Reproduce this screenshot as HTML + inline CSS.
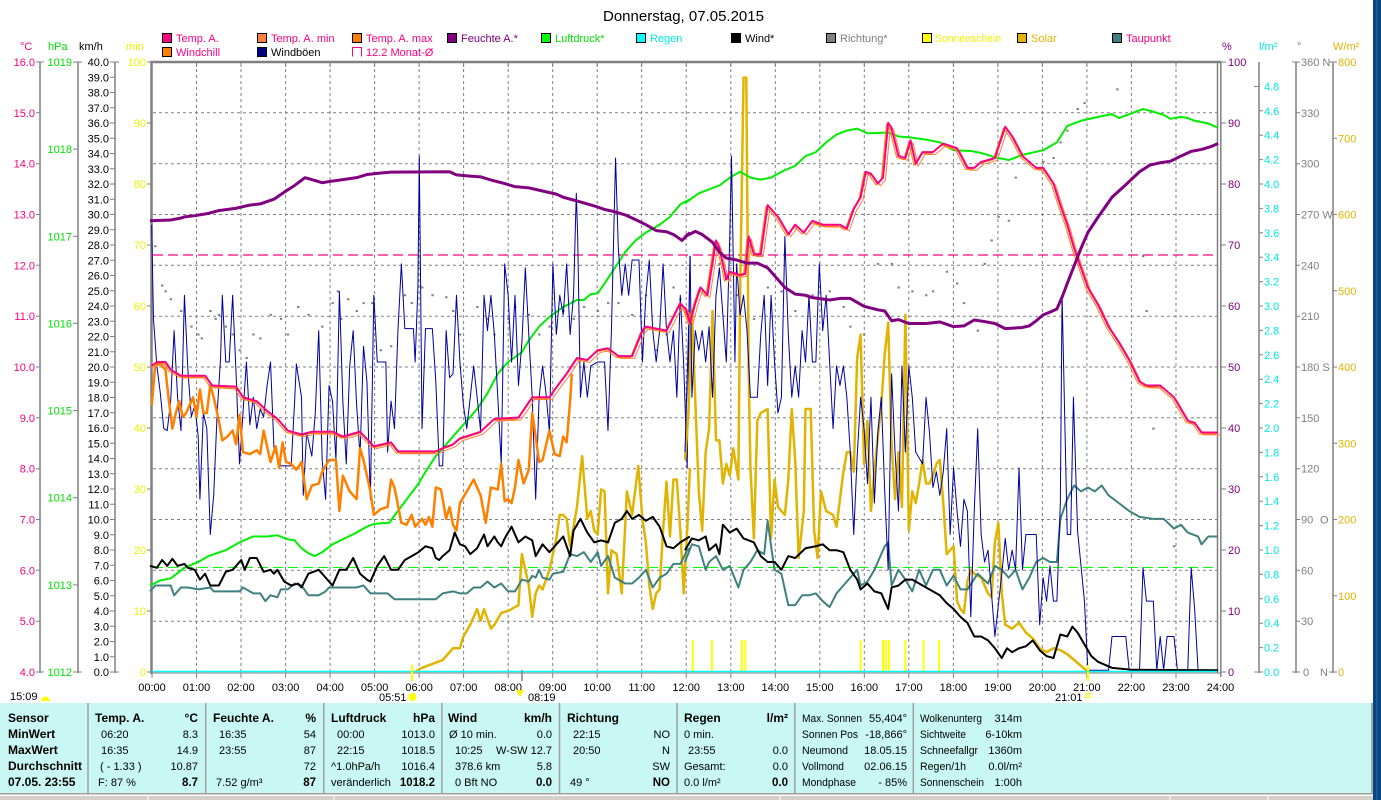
<!DOCTYPE html>
<html><head><meta charset="utf-8"><style>
html,body{margin:0;padding:0;background:#fff;}
svg{display:block;}
text{font-family:"Liberation Sans",Arial,sans-serif;}
</style></head><body>
<svg width="1381" height="800" viewBox="0 0 1381 800" xmlns="http://www.w3.org/2000/svg">
<defs>
<polyline id="tmp" fill="none" vector-effect="non-scaling-stroke" points="5,780 20,770 45,770 60,790 90,805 160,805 180,830 250,833 270,860 310,870 340,895 370,915 400,945 440,955 470,948 530,948 560,960 610,948 650,985 700,975 720,998 830,998 850,990 880,980 900,965 960,948 1000,915 1070,912 1110,860 1160,860 1180,835 1210,800 1240,760 1270,765 1300,740 1330,735 1360,755 1400,755 1430,690 1440,680 1500,690 1540,620 1560,640 1568,660"/>
<polyline id="tmp2" fill="none" vector-effect="non-scaling-stroke" points="0,630 15,670 30,620 45,580 65,600 90,460 100,480 120,560 130,540 160,548 175,545 185,450 200,495 220,495 240,370 270,400 300,445 320,420 345,440 370,410 400,420 450,420 470,430 490,380 510,350 525,285 540,290 560,315 575,300 590,160 600,175 620,245 640,250 655,205 670,265 690,235 720,235 750,213 790,225 820,275 840,275 860,260 900,250 930,170 950,195 980,245 1000,260 1020,275 1040,275 1070,315 1090,370 1110,420 1130,480 1150,530 1170,580 1200,625 1230,680 1260,720 1290,765 1320,820 1340,830 1380,830 1420,860 1460,920 1480,925 1500,950 1548,950"/>
</defs>

<rect x="1373" y="0" width="8" height="800" fill="#0b4580"/>
<rect x="1376" y="0" width="2" height="800" fill="#14599c"/>

<text x="603" y="21" font-size="15" fill="#000">Donnerstag, 07.05.2015</text>

<g font-size="11">
<rect x="162.5" y="33.5" width="9" height="9" fill="#ff0080" stroke="#000"/><text x="176" y="42" fill="#ff0080">Temp. A.</text>
<rect x="257.5" y="33.5" width="9" height="9" fill="#ff8040" stroke="#000"/><text x="271" y="42" fill="#ff0080">Temp. A. min</text>
<rect x="352.5" y="33.5" width="9" height="9" fill="#ff8000" stroke="#000"/><text x="366" y="42" fill="#ff0080">Temp. A. max</text>
<rect x="447.5" y="33.5" width="9" height="9" fill="#800080" stroke="#000"/><text x="461" y="42" fill="#800080">Feuchte A.*</text>
<rect x="541.5" y="33.5" width="9" height="9" fill="#00ff00" stroke="#000"/><text x="555" y="42" fill="#00e000">Luftdruck*</text>
<rect x="636.5" y="33.5" width="9" height="9" fill="#00ffff" stroke="#000"/><text x="650" y="42" fill="#00e8e8">Regen</text>
<rect x="731.5" y="33.5" width="9" height="9" fill="#000" stroke="#000"/><text x="745" y="42" fill="#000">Wind*</text>
<rect x="826.5" y="33.5" width="9" height="9" fill="#808080" stroke="#000"/><text x="840" y="42" fill="#808080">Richtung*</text>
<rect x="922.5" y="33.5" width="9" height="9" fill="#ffff00" stroke="#000"/><text x="935" y="42" fill="#f0f000" textLength="66" lengthAdjust="spacingAndGlyphs">Sonnenschein</text>
<rect x="1017.5" y="33.5" width="9" height="9" fill="#e0b400" stroke="#000"/><text x="1031" y="42" fill="#e0b400">Solar</text>
<rect x="1112.5" y="33.5" width="9" height="9" fill="#408080" stroke="#000"/><text x="1126" y="42" fill="#ff0080">Taupunkt</text>
<rect x="162.5" y="47.5" width="9" height="9" fill="#ff8000" stroke="#000"/><text x="176" y="56" fill="#ff0080">Windchill</text>
<rect x="257.5" y="47.5" width="9" height="9" fill="#000080" stroke="#000"/><text x="271" y="56" fill="#000">Windböen</text>
<path d="M352.5,56.5 V47.5 H361.5 V56.5" fill="none" stroke="#ff0080"/><text x="366" y="56" fill="#ff0080">12.2 Monat-Ø</text>
</g>

<g font-size="11">
<text x="20" y="50" fill="#ff0080">°C</text>
<text x="48" y="50" fill="#00e000">hPa</text>
<text x="79" y="50" fill="#000">km/h</text>
<text x="126" y="50" fill="#f0f000">min</text>
<text x="1222" y="50" fill="#800080">%</text>
<text x="1259" y="50" fill="#00e8e8">l/m²</text>
<text x="1297" y="50" fill="#808080">°</text>
<text x="1333" y="50" fill="#e0b400">W/m²</text>
</g>

<g stroke="#808080" stroke-width="1.5" fill="none">
<line x1="40" y1="62" x2="40" y2="673"/>
<line x1="78" y1="62" x2="78" y2="673"/>
<line x1="115" y1="62" x2="115" y2="673"/>
<line x1="1259" y1="62" x2="1259" y2="673"/>
<line x1="1296" y1="62" x2="1296" y2="673"/>
<line x1="1333" y1="62" x2="1333" y2="673"/>
</g>
<g stroke="#808080" stroke-width="1">
<path d="M36,62H44 M36,112.8H40 M36,163.7H40 M36,214.5H40 M36,265.3H40 M36,316.2H40 M36,367H40 M36,417.8H40 M36,468.7H40 M36,519.5H40 M36,570.3H40 M36,621.2H40 M36,672H44"/>
<path d="M73,62H82 M73,149.1H78 M73,236.3H78 M73,323.4H78 M73,410.6H78 M73,497.7H78 M73,584.9H78 M73,672H82"/>
<path d="M110,62H119 M110,77.25H115 M110,92.5H115 M110,107.75H115 M110,123H115 M110,138.25H115 M110,153.5H115 M110,168.75H115 M110,184H115 M110,199.25H115 M110,214.5H115 M110,229.75H115 M110,245H115 M110,260.25H115 M110,275.5H115 M110,290.75H115 M110,306H115 M110,321.25H115 M110,336.5H115 M110,351.75H115 M110,367H115 M110,382.25H115 M110,397.5H115 M110,412.75H115 M110,428H115 M110,443.25H115 M110,458.5H115 M110,473.75H115 M110,489H115 M110,504.25H115 M110,519.5H115 M110,534.75H115 M110,550H115 M110,565.25H115 M110,580.5H115 M110,595.75H115 M110,611H115 M110,626.25H115 M110,641.5H115 M110,656.75H115 M110,672H119"/>
<path d="M147,62H151 M147,123H151 M147,184H151 M147,245H151 M147,306H151 M147,367H151 M147,428H151 M147,489H151 M147,550H151 M147,611H151 M147,672H151"/>
<path d="M1221,62H1226 M1221,123H1226 M1221,184H1226 M1221,245H1226 M1221,306H1226 M1221,367H1226 M1221,428H1226 M1221,489H1226 M1221,550H1226 M1221,611H1226 M1221,672H1226"/>
<path d="M1254,86.4H1259 M1259,110.8H1263 M1259,135.2H1263 M1259,159.6H1263 M1259,184H1263 M1259,208.4H1263 M1259,232.8H1263 M1259,257.2H1263 M1259,281.6H1263 M1259,306H1263 M1259,330.4H1263 M1259,354.8H1263 M1259,379.2H1263 M1259,403.6H1263 M1259,428H1263 M1259,452.4H1263 M1259,476.8H1263 M1259,501.2H1263 M1259,525.6H1263 M1259,550H1263 M1259,574.4H1263 M1259,598.8H1263 M1259,623.2H1263 M1259,647.6H1263 M1254,672H1263"/>
<path d="M1292,62H1300 M1296,112.8H1300 M1296,163.7H1300 M1296,214.5H1300 M1296,265.3H1300 M1296,316.2H1300 M1296,367H1300 M1296,417.8H1300 M1296,468.7H1300 M1296,519.5H1300 M1296,570.3H1300 M1296,621.2H1300 M1292,672H1300"/>
<path d="M1329,62H1337 M1333,138.25H1337 M1333,214.5H1337 M1333,290.75H1337 M1333,367H1337 M1333,443.25H1337 M1333,519.5H1337 M1333,595.75H1337 M1329,672H1337"/>
</g>

<g font-size="11" fill="#ff0080" text-anchor="end">
<text x="35" y="66">16.0</text><text x="35" y="116.8">15.0</text><text x="35" y="167.7">14.0</text><text x="35" y="218.5">13.0</text><text x="35" y="269.3">12.0</text><text x="35" y="320.2">11.0</text><text x="35" y="371">10.0</text><text x="35" y="421.8">9.0</text><text x="35" y="472.7">8.0</text><text x="35" y="523.5">7.0</text><text x="35" y="574.3">6.0</text><text x="35" y="625.2">5.0</text><text x="35" y="676">4.0</text>
</g>
<g font-size="11" fill="#00e000" text-anchor="end">
<text x="72" y="66">1019</text><text x="72" y="153.1">1018</text><text x="72" y="240.3">1017</text><text x="72" y="327.4">1016</text><text x="72" y="414.6">1015</text><text x="72" y="501.7">1014</text><text x="72" y="588.9">1013</text><text x="72" y="676">1012</text>
</g>
<g font-size="11" fill="#000" text-anchor="end">
<text x="109" y="66">40.0</text><text x="109" y="81.25">39.0</text><text x="109" y="96.5">38.0</text><text x="109" y="111.75">37.0</text><text x="109" y="127">36.0</text><text x="109" y="142.25">35.0</text><text x="109" y="157.5">34.0</text><text x="109" y="172.75">33.0</text><text x="109" y="188">32.0</text><text x="109" y="203.25">31.0</text><text x="109" y="218.5">30.0</text><text x="109" y="233.75">29.0</text><text x="109" y="249">28.0</text><text x="109" y="264.25">27.0</text><text x="109" y="279.5">26.0</text><text x="109" y="294.75">25.0</text><text x="109" y="310">24.0</text><text x="109" y="325.25">23.0</text><text x="109" y="340.5">22.0</text><text x="109" y="355.75">21.0</text><text x="109" y="371">20.0</text><text x="109" y="386.25">19.0</text><text x="109" y="401.5">18.0</text><text x="109" y="416.75">17.0</text><text x="109" y="432">16.0</text><text x="109" y="447.25">15.0</text><text x="109" y="462.5">14.0</text><text x="109" y="477.75">13.0</text><text x="109" y="493">12.0</text><text x="109" y="508.25">11.0</text><text x="109" y="523.5">10.0</text><text x="109" y="538.75">9.0</text><text x="109" y="554">8.0</text><text x="109" y="569.25">7.0</text><text x="109" y="584.5">6.0</text><text x="109" y="599.75">5.0</text><text x="109" y="615">4.0</text><text x="109" y="630.25">3.0</text><text x="109" y="645.5">2.0</text><text x="109" y="660.75">1.0</text><text x="109" y="676">0.0</text>
</g>
<g font-size="11" fill="#f0f000" text-anchor="end">
<text x="146" y="66">100</text><text x="146" y="127">90</text><text x="146" y="188">80</text><text x="146" y="249">70</text><text x="146" y="310">60</text><text x="146" y="371">50</text><text x="146" y="432">40</text><text x="146" y="493">30</text><text x="146" y="554">20</text><text x="146" y="615">10</text><text x="146" y="676">0</text>
</g>
<g font-size="11" fill="#800080">
<text x="1228" y="66">100</text><text x="1228" y="127">90</text><text x="1228" y="188">80</text><text x="1228" y="249">70</text><text x="1228" y="310">60</text><text x="1228" y="371">50</text><text x="1228" y="432">40</text><text x="1228" y="493">30</text><text x="1228" y="554">20</text><text x="1228" y="615">10</text><text x="1228" y="676">0</text>
</g>
<g font-size="11" fill="#00e8e8">
<text x="1264" y="90.4">4.8</text><text x="1264" y="114.8">4.6</text><text x="1264" y="139.2">4.4</text><text x="1264" y="163.6">4.2</text><text x="1264" y="188">4.0</text><text x="1264" y="212.4">3.8</text><text x="1264" y="236.8">3.6</text><text x="1264" y="261.2">3.4</text><text x="1264" y="285.6">3.2</text><text x="1264" y="310">3.0</text><text x="1264" y="334.4">2.8</text><text x="1264" y="358.8">2.6</text><text x="1264" y="383.2">2.4</text><text x="1264" y="407.6">2.2</text><text x="1264" y="432">2.0</text><text x="1264" y="456.4">1.8</text><text x="1264" y="480.8">1.6</text><text x="1264" y="505.2">1.4</text><text x="1264" y="529.6">1.2</text><text x="1264" y="554">1.0</text><text x="1264" y="578.4">0.8</text><text x="1264" y="602.8">0.6</text><text x="1264" y="627.2">0.4</text><text x="1264" y="651.6">0.2</text><text x="1264" y="676">0.0</text>
</g>
<g font-size="11" fill="#808080">
<text x="1301" y="66">360 N</text><text x="1301" y="116.8">330</text><text x="1301" y="167.7">300</text><text x="1301" y="218.5">270 W</text><text x="1301" y="269.3">240</text><text x="1301" y="320.2">210</text><text x="1301" y="371">180 S</text><text x="1301" y="421.8">150</text><text x="1301" y="472.7">120</text><text x="1301" y="523.5">90</text><text x="1320" y="523.5">O</text><text x="1301" y="574.3">60</text><text x="1301" y="625.2">30</text><text x="1303" y="676">0</text><text x="1320" y="676">N</text>
</g>
<g font-size="11" fill="#e0b400">
<text x="1338" y="66">800</text><text x="1338" y="142.25">700</text><text x="1338" y="218.5">600</text><text x="1338" y="294.75">500</text><text x="1338" y="371">400</text><text x="1338" y="447.25">300</text><text x="1338" y="523.5">200</text><text x="1338" y="599.75">100</text><text x="1338" y="676">0</text>
</g>

<g stroke="#808080" stroke-width="1" stroke-dasharray="3,3" fill="none">
<path d="M153,112.8H1217 M153,163.7H1217 M153,214.5H1217 M153,265.3H1217 M153,316.2H1217 M153,367H1217 M153,417.8H1217 M153,468.7H1217 M153,519.5H1217 M153,570.3H1217 M153,621.2H1217"/>
<path d="M196.5,63V671 M241,63V671 M285.6,63V671 M330.1,63V671 M374.6,63V671 M419.1,63V671 M463.6,63V671 M508.2,63V671 M552.7,63V671 M597.2,63V671 M641.7,63V671 M686.2,63V671 M730.8,63V671 M775.3,63V671 M819.8,63V671 M864.3,63V671 M908.8,63V671 M953.4,63V671 M997.9,63V671 M1042.4,63V671 M1086.9,63V671 M1131.4,63V671 M1176,63V671"/>
</g>
<g stroke="#808080" fill="none">
<line x1="151.5" y1="61" x2="151.5" y2="674" stroke-width="2.5"/>
<line x1="151" y1="62" x2="1221" y2="62" stroke-width="2.5"/>
<line x1="1217.5" y1="62" x2="1217.5" y2="673" stroke-width="1.5"/>
<line x1="1220.8" y1="62" x2="1220.8" y2="677" stroke-width="1.5"/>
<line x1="151" y1="673" x2="1221" y2="673" stroke-width="1"/>
<path stroke-width="1" d="M196.5,64V67 M241,64V67 M285.6,64V67 M330.1,64V67 M374.6,64V67 M419.1,64V67 M463.6,64V67 M508.2,64V67 M552.7,64V67 M597.2,64V67 M641.7,64V67 M686.2,64V67 M730.8,64V67 M775.3,64V67 M819.8,64V67 M864.3,64V67 M908.8,64V67 M953.4,64V67 M997.9,64V67 M1042.4,64V67 M1086.9,64V67 M1131.4,64V67 M1176,64V67"/>
<path stroke-width="1" d="M152,673V678 M196.5,673V678 M241,673V678 M285.6,673V678 M330.1,673V678 M374.6,673V678 M419.1,673V678 M463.6,673V678 M508.2,673V678 M552.7,673V678 M597.2,673V678 M641.7,673V678 M686.2,673V678 M730.8,673V678 M775.3,673V678 M819.8,673V678 M864.3,673V678 M908.8,673V678 M953.4,673V678 M997.9,673V678 M1042.4,673V678 M1086.9,673V678 M1131.4,673V678 M1176,673V678"/>
</g>
<line x1="153" y1="255" x2="1217" y2="255" stroke="#ff0080" stroke-width="1.2" stroke-dasharray="10,5"/>
<line x1="153" y1="567.5" x2="1217" y2="567.5" stroke="#00ff00" stroke-width="1" stroke-dasharray="10,5"/>

<g stroke="#ffff00" stroke-width="2">
<path d="M692.6,640V671 M711.9,640V671 M741.8,640V671 M745.3,640V671 M860.6,640V671 M883,640V671 M885.8,640V671 M888.9,640V671 M905.4,640V671 M923.6,640V671 M939.1,640V671"/>
</g>

<g transform="translate(150,60) scale(0.34435,0.39216)" fill="none" stroke-linejoin="round">
<path vector-effect="non-scaling-stroke" stroke="#808080" stroke-width="2" stroke-linecap="square" d="M15,475h1 M35,575h1 M45,590h1 M60,610h1 M90,640h1 M120,680h1 M140,700h1 M150,710h1 M175,640h1 M190,660h1 M200,650h1 M220,680h1 M240,700h1 M260,740h1 M280,760h1 M300,700h1 M320,710h1 M350,650h1 M380,660h1 M400,700h1 M430,630h1 M460,650h1 M500,680h1 M530,620h1 M545,590h1 M555,660h1 M575,610h1 M600,640h1 M620,620h1 M645,620h1 M670,740h1 M700,730h1 M740,600h1 M760,620h1 M790,580h1 M820,600h1 M860,605h1 M880,640h1 M900,700h1 M950,630h1 M980,660h1 M1000,700h1 M1040,660h1 M1060,630h1 M1100,650h1 M1130,700h1 M1160,680h1 M1200,640h1 M1230,660h1 M1260,630h1 M1300,640h1 M1330,620h1 M1360,620h1 M1400,650h1 M1440,600h1 M1470,740h1 M1500,700h1 M1520,580h1 M1540,610h1"/>
<polyline vector-effect="non-scaling-stroke" stroke="#e0b400" stroke-width="2.5" points="770,1560 790,1550 820,1540 850,1530 880,1500 900,1500 910,1470 930,1440 950,1400 960,1430 970,1400 990,1450 1000,1440 1020,1410 1040,1405 1060,1395 1070,1390 1080,1260 1090,1300 1100,1340 1110,1420 1120,1360 1130,1340 1140,1350 1160,1300 1180,1220 1190,1160 1200,1160 1210,1170 1220,1240 1240,1140 1255,1010 1270,1170 1280,1150 1290,1200 1300,1210 1310,1095 1320,1100 1330,1360 1340,1250 1355,1260 1370,1360 1385,1100 1400,1160 1418,1035 1430,1170 1440,1230 1450,1340 1460,1400 1470,1360 1480,1350 1490,1200 1500,1075 1510,1215 1520,1070 1530,1070 1540,1200 1550,1360 1560,1200 1568,1040"/>
<polyline vector-effect="non-scaling-stroke" stroke="#408080" stroke-width="2" points="0,1355 15,1340 60,1340 70,1365 90,1345 110,1345 140,1350 175,1345 185,1355 260,1355 270,1345 300,1360 320,1360 335,1380 350,1365 370,1370 380,1350 400,1350 420,1335 440,1340 460,1365 490,1365 510,1355 520,1345 600,1345 620,1340 640,1360 690,1360 710,1375 830,1375 850,1360 880,1355 900,1360 920,1360 940,1345 960,1345 980,1330 1000,1345 1020,1335 1040,1355 1060,1355 1080,1325 1100,1330 1110,1315 1120,1320 1130,1300 1140,1320 1160,1325 1170,1310 1200,1305 1220,1260 1240,1265 1260,1255 1280,1280 1300,1255 1310,1290 1330,1265 1350,1320 1380,1335 1400,1335 1420,1320 1440,1300 1460,1345 1480,1320 1500,1310 1520,1285 1540,1285 1560,1250 1568,1245"/>
<polyline vector-effect="non-scaling-stroke" stroke="#00ee00" stroke-width="2" points="0,1340 30,1327 60,1322 100,1295 140,1280 170,1265 220,1250 260,1230 300,1215 340,1215 370,1212 400,1222 420,1225 440,1245 460,1258 478,1265 500,1255 530,1235 570,1218 600,1205 630,1190 650,1183 695,1180 720,1150 750,1115 780,1080 800,1050 830,1010 860,980 890,950 920,920 950,890 980,850 1010,800 1040,770 1080,745 1100,715 1130,680 1160,655 1200,630 1240,612 1260,612 1280,597 1300,595 1320,570 1350,530 1380,490 1410,460 1440,440 1480,420 1510,400 1540,368 1568,355"/>
<polyline vector-effect="non-scaling-stroke" stroke="#0000a0" stroke-width="1" points="5,420 10,660 20,780 30,850 40,940 50,945 60,870 70,690 80,860 90,945 100,600 110,790 120,910 130,880 140,960 145,1120 155,900 165,940 175,1210 185,1110 195,900 205,760 210,600 220,770 230,770 240,600 250,800 260,1030 270,900 280,770 290,930 300,860 310,940 320,890 330,910 340,830 350,770 360,990 380,1035 410,1035 420,870 425,775 440,860 445,1110 455,950 470,1010 480,900 490,690 500,1020 510,1120 520,830 530,870 540,1020 550,590 560,870 570,1030 580,780 590,690 600,880 610,1010 620,730 630,820 640,1120 650,600 660,770 685,770 690,1000 700,870 710,940 720,690 730,520 740,685 765,685 770,770 778,580 782,245 785,500 790,940 800,685 820,685 830,820 840,1035 850,1035 860,690 870,810 880,800 890,600 900,770 910,880 920,940 940,780 950,860 960,945 970,600 980,690 990,600 1000,700 1010,860 1020,1030 1030,520 1040,600 1050,770 1060,600 1070,830 1080,720 1090,530 1100,700 1110,860 1120,1120 1130,860 1140,780 1150,850 1160,950 1170,520 1180,700 1190,600 1200,650 1210,520 1220,700 1230,600 1238,340 1242,450 1250,860 1260,770 1270,860 1280,780 1300,770 1320,770 1330,945 1340,690 1352,250 1360,480 1370,600 1380,520 1390,600 1400,510 1420,510 1430,770 1440,600 1450,510 1460,690 1470,770 1480,690 1490,520 1500,690 1510,770 1520,690 1530,860 1540,600 1550,780 1560,1040 1568,500"/>
<polyline vector-effect="non-scaling-stroke" stroke="#ff8000" stroke-width="2.5" points="5,880 15,780 30,775 45,790 55,870 65,940 75,900 85,870 95,910 105,900 115,880 125,860 135,910 145,840 155,900 165,900 175,830 185,860 200,920 210,970 225,960 240,945 250,980 260,905 270,1000 290,1005 310,995 320,1005 330,945 350,1025 365,985 375,1040 385,975 395,1025 410,1030 425,1045 440,1025 455,1120 470,1085 490,1080 500,1050 520,1020 540,1020 550,1150 560,1060 580,1100 600,1120 610,990 620,1020 640,1100 650,1160 670,1145 690,1140 700,1070 710,1090 730,1180 745,1185 760,1160 770,1190 790,1170 800,1185 810,1165 820,1190 830,1090 845,1095 860,1170 870,1140 880,1185 890,1200 900,1130 920,1100 940,1070 960,1110 975,1180 990,1090 1010,1095 1020,1030 1030,1125 1040,1120 1050,1130 1060,1090 1070,1020 1085,1080 1100,1045 1110,900 1120,960 1130,1025 1140,1020 1160,945 1175,1005 1190,1010 1200,960 1210,975 1220,870 1225,800"/>
<use href="#tmp" stroke="#ff8040" stroke-width="1" transform="translate(7,6)"/>
<use href="#tmp" stroke="#ff8000" stroke-width="1" transform="translate(-5,4)"/>
<use href="#tmp" stroke="#ff0080" stroke-width="2"/>
<polyline vector-effect="non-scaling-stroke" stroke="#000" stroke-width="2" points="0,1290 20,1295 35,1275 50,1290 65,1272 80,1290 100,1285 110,1295 130,1300 145,1325 160,1310 175,1340 200,1340 220,1305 240,1300 265,1275 275,1300 290,1270 310,1270 330,1305 350,1300 360,1310 370,1300 390,1330 410,1340 430,1335 440,1345 460,1310 490,1300 510,1320 530,1340 550,1300 570,1300 590,1270 610,1310 630,1325 640,1330 660,1290 680,1265 700,1300 720,1300 740,1275 760,1265 780,1255 800,1240 820,1245 830,1270 840,1275 850,1265 870,1250 885,1205 900,1235 915,1240 930,1260 950,1245 970,1210 980,1240 1000,1215 1010,1230 1020,1240 1030,1220 1050,1190 1070,1230 1090,1215 1110,1225 1120,1265 1140,1235 1160,1255 1180,1235 1200,1215 1220,1265 1230,1200 1250,1170 1270,1205 1290,1230 1310,1225 1330,1230 1350,1180 1370,1170 1385,1150 1400,1170 1420,1160 1440,1175 1460,1165 1480,1190 1500,1240 1520,1245 1540,1230 1568,1215"/>
<polyline vector-effect="non-scaling-stroke" stroke="#800080" stroke-width="3" points="0,410 60,408 90,403 100,400 130,397 170,391 200,384 250,378 290,370 320,367 360,355 390,337 420,320 450,300 470,305 500,313 520,310 560,305 600,300 630,292 660,289 700,286 870,285 890,293 930,296 960,298 990,306 1030,315 1060,323 1100,326 1140,334 1180,342 1200,350 1250,362 1290,372 1320,381 1350,387 1380,395 1410,407 1440,420 1470,435 1500,438 1520,445 1545,460 1568,440"/>
</g>

<g transform="translate(685,60) scale(0.34435,0.39216)" fill="none" stroke-linejoin="round">
<path vector-effect="non-scaling-stroke" stroke="#808080" stroke-width="2" stroke-linecap="square" d="M100,520h1 M150,600h1 M200,660h1 M240,580h1 M280,590h1 M320,640h1 M370,600h1 M420,590h1 M460,630h1 M480,680h1 M520,700h1 M560,520h1 M600,520h1 M620,580h1 M660,590h1 M700,600h1 M720,590h1 M760,540h1 M790,570h1 M810,620h1 M850,690h1 M870,520h1 M890,460h1 M910,400h1 M940,410h1 M960,300h1 M1000,260h1 M1040,260h1 M1070,250h1 M1090,210h1 M1110,180h1 M1140,125h1 M1160,110h1 M1255,75h1 M1330,500h1 M1340,640h1 M1360,940h1 M1420,1240h1 M1470,1320h1"/>
<polyline vector-effect="non-scaling-stroke" stroke="#e0b400" stroke-width="2.5" points="0,1020 10,900 20,640 30,870 40,1100 50,1200 60,1000 70,940 80,640 90,970 100,970 110,1080 120,1030 130,1060 140,990 155,1070 160,600 170,45 178,45 185,800 190,1040 200,1220 210,920 220,900 240,890 250,1220 260,1070 270,1140 290,1160 300,1070 310,890 320,1020 330,1270 345,1150 350,890 365,890 375,1200 385,1270 395,1100 410,1150 430,1160 440,1190 460,1050 470,1000 480,1000 490,1050 500,760 510,700 520,1030 530,920 540,1150 550,1050 560,960 570,880 580,750 590,670 600,980 610,1120 620,1000 630,1140 640,650 650,1200 660,1100 670,1130 680,1080 690,1020 700,1080 710,1080 720,1060 730,1030 740,1020 750,1130 760,1260 770,1250 780,1240 790,1380 800,1400 810,1410 820,1330 830,1300 840,1310 860,1320 880,1360 890,1370 900,1230 910,1180 920,1360 930,1440 950,1450 970,1435 990,1460 1010,1475 1030,1500 1050,1510 1070,1500 1090,1505 1110,1515 1130,1530 1150,1545 1170,1560"/>
<polyline vector-effect="non-scaling-stroke" stroke="#408080" stroke-width="2" points="0,1280 20,1235 40,1240 60,1300 70,1280 90,1265 110,1300 130,1290 155,1345 170,1300 190,1280 210,1250 230,1260 240,1175 250,1240 260,1300 280,1310 300,1390 320,1390 340,1365 360,1365 380,1360 400,1380 420,1395 440,1360 460,1340 480,1320 500,1300 510,1340 530,1330 550,1300 580,1240 590,1230 600,1340 620,1300 640,1325 660,1355 680,1300 700,1340 720,1300 740,1300 760,1340 780,1315 800,1350 820,1350 850,1310 880,1335 900,1290 920,1300 940,1320 960,1300 980,1350 1000,1320 1020,1280 1040,1270 1060,1280 1080,1280 1090,1170 1110,1120 1130,1085 1150,1100 1170,1090 1190,1100 1210,1085 1230,1110 1260,1130 1290,1150 1320,1165 1360,1170 1390,1170 1420,1195 1440,1185 1460,1205 1490,1215 1500,1235 1520,1215 1548,1215"/>
<polyline vector-effect="non-scaling-stroke" stroke="#00ee00" stroke-width="2" points="0,365 40,340 100,320 130,300 160,285 190,300 220,305 250,300 280,285 320,270 350,245 380,235 410,210 440,190 470,180 500,175 530,187 590,185 620,195 650,197 700,203 740,210 780,230 830,232 860,237 900,248 940,255 980,242 1040,230 1080,210 1110,168 1150,155 1200,145 1240,138 1260,148 1300,135 1330,125 1360,132 1390,140 1410,150 1440,145 1460,148 1480,155 1520,162 1548,173"/>
<polyline vector-effect="non-scaling-stroke" stroke="#0000a0" stroke-width="1" points="0,1000 10,700 15,500 20,860 30,690 40,740 50,690 60,770 70,680 80,860 90,600 100,530 110,650 120,770 130,450 135,245 140,500 145,770 150,520 160,650 170,600 180,690 190,860 210,860 220,700 230,600 240,830 250,600 260,770 270,900 280,860 290,450 300,700 310,860 320,780 330,860 340,690 350,770 360,600 370,770 380,770 390,520 400,690 410,600 420,770 430,940 440,780 450,830 460,780 470,860 480,1000 490,1210 500,1010 510,860 520,940 530,1080 540,860 550,1130 560,950 570,860 580,1100 590,1300 600,800 610,1000 620,1150 630,780 640,1000 650,780 660,860 670,1000 690,1030 700,860 710,950 720,1090 730,1050 740,1110 750,1050 760,940 770,1210 780,1040 790,1150 800,1240 810,1120 820,1150 830,1420 840,1150 850,940 860,1210 870,1280 880,1250 890,1360 900,1470 910,1390 920,1310 930,1220 940,1300 950,1250 960,1300 970,1040 980,1300 990,1210 1020,1210 1030,1440 1040,1320 1050,1380 1060,1290 1070,1380 1080,1380 1090,1130 1095,600 1100,800 1110,1210 1120,1210 1128,860 1140,1200 1160,1380 1170,1556 1230,1556 1240,1470 1280,1470 1290,1556 1320,1556 1330,1295 1340,1380 1360,1380 1370,1556 1380,1470 1390,1556 1400,1470 1420,1470 1430,1556 1460,1556 1470,1295 1480,1400 1490,1556 1548,1556"/>
<use href="#tmp2" stroke="#ff8040" stroke-width="1" transform="translate(7,6)"/>
<use href="#tmp2" stroke="#ff8000" stroke-width="1" transform="translate(-5,4)"/>
<use href="#tmp2" stroke="#ff0080" stroke-width="2"/>
<polyline vector-effect="non-scaling-stroke" stroke="#000" stroke-width="2" points="0,1250 20,1220 40,1225 60,1215 70,1250 90,1235 100,1260 110,1185 130,1205 150,1195 170,1220 200,1230 220,1265 240,1280 260,1280 280,1300 300,1265 320,1270 350,1245 380,1240 400,1235 420,1250 440,1250 460,1255 480,1300 500,1325 510,1350 530,1335 550,1355 570,1360 590,1400 600,1345 620,1340 640,1325 660,1325 680,1335 700,1345 720,1355 740,1365 760,1385 780,1400 800,1420 820,1435 840,1470 860,1470 880,1480 900,1500 920,1525 935,1500 950,1510 970,1500 990,1495 1010,1480 1030,1505 1050,1520 1070,1525 1090,1465 1110,1470 1125,1445 1140,1460 1160,1490 1180,1520 1200,1535 1240,1550 1300,1555 1548,1556"/>
<polyline vector-effect="non-scaling-stroke" stroke="#800080" stroke-width="3" points="0,450 30,437 50,445 80,465 100,490 120,505 150,510 180,518 210,518 240,530 260,550 290,580 320,597 350,600 370,606 420,612 450,608 480,608 520,628 560,637 580,640 600,665 620,662 650,672 700,672 740,668 780,680 810,678 840,663 870,667 900,672 930,685 980,682 1000,678 1020,665 1040,650 1060,643 1080,635 1095,605 1110,570 1130,525 1150,480 1170,440 1200,400 1240,350 1280,318 1320,285 1350,268 1380,262 1410,258 1440,245 1470,233 1500,228 1530,220 1548,213"/>
</g>

<line x1="153" y1="671.5" x2="1217" y2="671.5" stroke="#00ffff" stroke-width="1.5"/>

<line x1="412" y1="665" x2="412" y2="681" stroke="#ffff00" stroke-width="2"/>
<line x1="522" y1="670" x2="522" y2="681" stroke="#808080" stroke-width="1.5"/>
<line x1="1088" y1="665" x2="1088" y2="681" stroke="#ffff00" stroke-width="2"/>

<g font-size="11" fill="#000" text-anchor="middle">
<text x="152" y="691">00:00</text><text x="196.5" y="691">01:00</text><text x="241" y="691">02:00</text><text x="285.6" y="691">03:00</text><text x="330.1" y="691">04:00</text><text x="374.6" y="691">05:00</text><text x="419.1" y="691">06:00</text><text x="463.6" y="691">07:00</text><text x="508.2" y="691">08:00</text><text x="552.7" y="691">09:00</text><text x="597.2" y="691">10:00</text><text x="641.7" y="691">11:00</text><text x="686.2" y="691">12:00</text><text x="730.8" y="691">13:00</text><text x="775.3" y="691">14:00</text><text x="819.8" y="691">15:00</text><text x="864.3" y="691">16:00</text><text x="908.8" y="691">17:00</text><text x="953.4" y="691">18:00</text><text x="997.9" y="691">19:00</text><text x="1042.4" y="691">20:00</text><text x="1086.9" y="691">21:00</text><text x="1131.4" y="691">22:00</text><text x="1176" y="691">23:00</text><text x="1220.5" y="691">24:00</text>
</g>
<g font-size="11" fill="#000">
<text x="10" y="700">15:09</text>
<text x="379" y="701">05:51</text>
<text x="528" y="701">08:19</text>
<text x="1055" y="701">21:01</text>
</g>
<path d="M41,701 A4.5,4.5 0 0 1 50,701 Z" fill="#ffff00"/>
<circle cx="412.5" cy="697" r="4" fill="#ffff00"/>
<path d="M516,690 L524,690 L520,697 Z" fill="#ffff00"/>
<rect x="1086" y="693.5" width="4" height="4" fill="none" stroke="#ffff00" stroke-width="1.2"/>

<rect x="0" y="703" width="1372" height="91" fill="#c9f7f4"/>
<line x1="1372" y1="703" x2="1372" y2="794" stroke="#909090" stroke-width="1.5"/>
<rect x="0" y="793" width="1373" height="7" fill="#d4d0c8"/>
<line x1="0" y1="793.5" x2="1373" y2="793.5" stroke="#a0a0a0"/>
<line x1="0" y1="795.5" x2="1373" y2="795.5" stroke="#ffffff"/>
<g stroke="#ffffff" stroke-width="1"><path d="M148,796V800 M334,796V800 M780,796V800 M1170,796V800 M1268,796V800"/></g>
<g stroke="#a0a0a0" stroke-width="1.5">
<path d="M88,703V793 M205.7,703V793 M323.8,703V793 M441.9,703V793 M559.5,703V793 M677,703V793 M794.8,703V793 M913.3,703V793"/>
</g>

<g font-size="12" fill="#000">
<g font-weight="bold">
<text x="8" y="722">Sensor</text>
<text x="8" y="738">MinWert</text>
<text x="8" y="754">MaxWert</text>
<text x="8" y="770">Durchschnitt</text>
<text x="8" y="786">07.05. 23:55</text>
<text x="95" y="722">Temp. A.</text>
<text x="198" y="722" text-anchor="end">°C</text>
<text x="213" y="722">Feuchte A.</text>
<text x="316" y="722" text-anchor="end">%</text>
<text x="331" y="722">Luftdruck</text>
<text x="435" y="722" text-anchor="end">hPa</text>
<text x="448" y="722">Wind</text>
<text x="552" y="722" text-anchor="end">km/h</text>
<text x="567" y="722">Richtung</text>
<text x="684" y="722">Regen</text>
<text x="788" y="722" text-anchor="end">l/m²</text>
<g font-size="11.5">
<text x="198" y="786" text-anchor="end">8.7</text>
<text x="316" y="786" text-anchor="end">87</text>
<text x="435" y="786" text-anchor="end">1018.2</text>
<text x="552" y="786" text-anchor="end">0.0</text>
<text x="670" y="786" text-anchor="end">NO</text>
<text x="788" y="786" text-anchor="end">0.0</text>
</g>
</g>
<g font-size="11">
<text x="101" y="738">06:20</text><text x="198" y="738" text-anchor="end">8.3</text>
<text x="101" y="754">16:35</text><text x="198" y="754" text-anchor="end">14.9</text>
<text x="100" y="770">( - 1.33 )</text><text x="198" y="770" text-anchor="end">10.87</text>
<text x="98" y="786">F: 87 %</text>

<text x="219" y="738">16:35</text><text x="316" y="738" text-anchor="end">54</text>
<text x="219" y="754">23:55</text><text x="316" y="754" text-anchor="end">87</text>
<text x="316" y="770" text-anchor="end">72</text>
<text x="216" y="786">7.52 g/m³</text>

<text x="337" y="738">00:00</text><text x="435" y="738" text-anchor="end">1013.0</text>
<text x="337" y="754">22:15</text><text x="435" y="754" text-anchor="end">1018.5</text>
<text x="331" y="770">^1.0hPa/h</text><text x="435" y="770" text-anchor="end">1016.4</text>
<text x="331" y="786">veränderlich</text>

<text x="449" y="738">Ø 10 min.</text><text x="552" y="738" text-anchor="end">0.0</text>
<text x="455" y="754">10:25</text><text x="552" y="754" text-anchor="end">W-SW 12.7</text>
<text x="455" y="770">378.6 km</text><text x="552" y="770" text-anchor="end">5.8</text>
<text x="455" y="786">0 Bft NO</text>

<text x="573" y="738">22:15</text><text x="670" y="738" text-anchor="end">NO</text>
<text x="573" y="754">20:50</text><text x="670" y="754" text-anchor="end">N</text>
<text x="670" y="770" text-anchor="end">SW</text>
<text x="570" y="786">49 °</text>

<text x="684" y="738">0 min.</text>
<text x="688" y="754">23:55</text><text x="788" y="754" text-anchor="end">0.0</text>
<text x="684" y="770">Gesamt:</text><text x="788" y="770" text-anchor="end">0.0</text>
<text x="684" y="786">0.0 l/m²</text>

<text x="802" y="722" textLength="60" lengthAdjust="spacingAndGlyphs">Max. Sonnen</text><text x="907" y="722" text-anchor="end">55,404°</text>
<text x="802" y="738" textLength="56" lengthAdjust="spacingAndGlyphs">Sonnen Pos</text><text x="907" y="738" text-anchor="end">-18,866°</text>
<text x="802" y="754" textLength="46" lengthAdjust="spacingAndGlyphs">Neumond</text><text x="907" y="754" text-anchor="end">18.05.15</text>
<text x="802" y="770" textLength="42" lengthAdjust="spacingAndGlyphs">Vollmond</text><text x="907" y="770" text-anchor="end">02.06.15</text>
<text x="802" y="786" textLength="54" lengthAdjust="spacingAndGlyphs">Mondphase</text><text x="907" y="786" text-anchor="end">- 85%</text>

<text x="920" y="722" textLength="62" lengthAdjust="spacingAndGlyphs">Wolkenunterg</text><text x="1022" y="722" text-anchor="end">314m</text>
<text x="920" y="738" textLength="46" lengthAdjust="spacingAndGlyphs">Sichtweite</text><text x="1022" y="738" text-anchor="end">6-10km</text>
<text x="920" y="754" textLength="58" lengthAdjust="spacingAndGlyphs">Schneefallgr</text><text x="1022" y="754" text-anchor="end">1360m</text>
<text x="920" y="770" textLength="46" lengthAdjust="spacingAndGlyphs">Regen/1h</text><text x="1022" y="770" text-anchor="end">0.0l/m²</text>
<text x="920" y="786" textLength="64" lengthAdjust="spacingAndGlyphs">Sonnenschein</text><text x="1022" y="786" text-anchor="end">1:00h</text>
</g>
</g>
</svg>
</body></html>
